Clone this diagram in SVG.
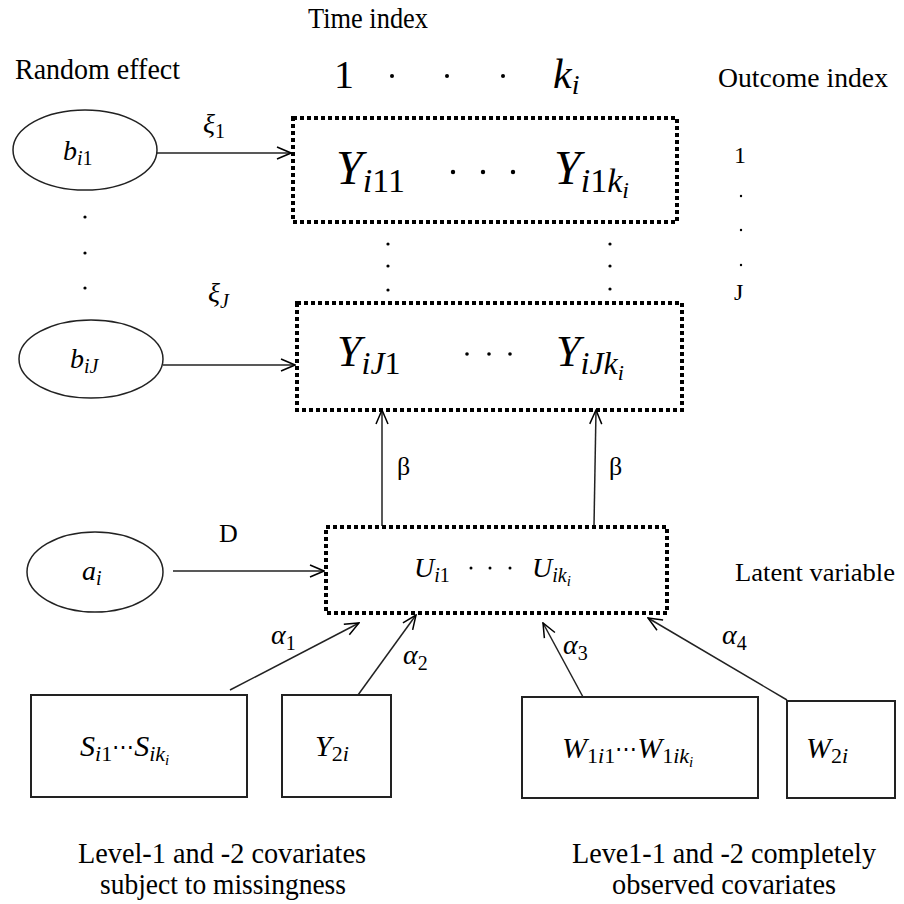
<svg xmlns="http://www.w3.org/2000/svg" width="904" height="904" viewBox="0 0 904 904">
<defs>
<marker id="arr" markerWidth="16" markerHeight="14" refX="15" refY="7" orient="auto" markerUnits="userSpaceOnUse">
<path d="M1,1 L15,7 L1,13" fill="none" stroke="#000" stroke-width="1.5"/>
</marker>
<style>
.lbl{fill:#000;font-family:"Liberation Serif","DejaVu Serif",serif;font-style:normal}
.m{font-style:italic;fill:#000;font-family:"Liberation Serif","DejaVu Serif",serif}
.dot{stroke:#000;stroke-width:4;stroke-dasharray:4 3;fill:none}
.box{stroke:#222;stroke-width:2;fill:#fff}
.ell{stroke:#222;stroke-width:1.5;fill:#fff}
.con{stroke:#222;stroke-width:1.5;fill:none;marker-end:url(#arr)}
</style>
</defs>
<rect width="904" height="904" fill="#fff"/>

<g id="headers">
<text class="lbl" x="368" y="28" font-size="29" text-anchor="middle" textLength="120" lengthAdjust="spacingAndGlyphs">Time index</text>
<text class="lbl" x="15" y="79" font-size="29" textLength="165" lengthAdjust="spacingAndGlyphs">Random effect</text>
<text class="lbl" x="718" y="87" font-size="27" textLength="170" lengthAdjust="spacingAndGlyphs">Outcome index</text>
<text class="lbl" x="334" y="88" font-size="40">1</text>
<circle cx="392" cy="76" r="2"/><circle cx="447" cy="76" r="2"/><circle cx="503" cy="76" r="2"/>
<text class="m" x="553" y="88" font-size="42">k<tspan font-size="28" dy="6">i</tspan></text>
<text class="lbl" x="734" y="163" font-size="24">1</text>
<circle cx="741" cy="196" r="1.2"/><circle cx="741" cy="230" r="1.2"/><circle cx="741" cy="265" r="1.2"/>
<text class="lbl" x="734" y="300" font-size="24">J</text>
<circle cx="85" cy="217" r="1.6"/><circle cx="85" cy="253" r="1.6"/><circle cx="85" cy="288" r="1.6"/>
<circle cx="388" cy="244" r="1.6"/><circle cx="388" cy="266" r="1.6"/><circle cx="388" cy="290" r="1.6"/>
<circle cx="610" cy="244" r="1.6"/><circle cx="610" cy="266" r="1.6"/><circle cx="610" cy="289" r="1.6"/>
</g>

<g id="connectors">
<line class="con" x1="157" y1="153" x2="291" y2="153"/>
<line class="con" x1="163" y1="365" x2="295" y2="365"/>
<line class="con" x1="382" y1="526" x2="382" y2="410"/>
<line class="con" x1="594" y1="526" x2="596" y2="410"/>
<line class="con" x1="173" y1="571" x2="324" y2="571"/>
<line class="con" x1="230" y1="690" x2="359" y2="623"/>
<line class="con" x1="358" y1="695" x2="416" y2="615"/>
<line class="con" x1="583" y1="697" x2="543" y2="623"/>
<line class="con" x1="787" y1="700" x2="648" y2="618"/>
</g>

<g id="labels">
<text class="m" x="203" y="133" font-size="28">ξ<tspan font-size="20" dy="5" font-style="normal">1</tspan></text>
<text class="m" x="208" y="302" font-size="28">ξ<tspan font-size="20" dy="6">J</tspan></text>
<text class="lbl" x="397" y="475" font-size="26">β</text>
<text class="lbl" x="609" y="475" font-size="26">β</text>
<text class="lbl" x="219" y="542" font-size="26">D</text>
<text class="m" x="271" y="644" font-size="28">α<tspan font-size="20" dy="6" font-style="normal">1</tspan></text>
<text class="m" x="403" y="664" font-size="28">α<tspan font-size="20" dy="6" font-style="normal">2</tspan></text>
<text class="m" x="563" y="654" font-size="28">α<tspan font-size="20" dy="6" font-style="normal">3</tspan></text>
<text class="m" x="722" y="644" font-size="28">α<tspan font-size="20" dy="6" font-style="normal">4</tspan></text>
<text class="lbl" x="735" y="581" font-size="25" textLength="160" lengthAdjust="spacingAndGlyphs">Latent variable</text>
</g>

<g id="b_i1">
<ellipse class="ell" cx="85" cy="150" rx="72" ry="40"/>
<text class="m" x="63" y="160" font-size="28">b<tspan font-size="20" dy="5">i</tspan><tspan font-size="20" font-style="normal">1</tspan></text>
</g>
<g id="b_iJ">
<ellipse class="ell" cx="91" cy="359" rx="72" ry="39"/>
<text class="m" x="70" y="368" font-size="28">b<tspan font-size="20" dy="5">iJ</tspan></text>
</g>
<g id="a_i">
<ellipse class="ell" cx="95" cy="572" rx="68" ry="40"/>
<text class="m" x="82" y="580" font-size="28">a<tspan font-size="20" dy="5">i</tspan></text>
</g>

<g id="Y1">
<rect class="dot" x="293" y="118" width="384" height="104"/>
<text class="m" x="336" y="184" font-size="48">Y<tspan font-size="34" dy="8">i</tspan><tspan font-size="34" font-style="normal">11</tspan></text>
<circle cx="453" cy="172" r="2.2"/><circle cx="483" cy="172" r="2.2"/><circle cx="513" cy="172" r="2.2"/>
<text class="m" x="554" y="184" font-size="48">Y<tspan font-size="34" dy="8">i</tspan><tspan font-size="34" font-style="normal">1</tspan><tspan font-size="34">k</tspan><tspan font-size="24" dy="6">i</tspan></text>
</g>

<g id="YJ">
<rect class="dot" x="297" y="303" width="385" height="107"/>
<text class="m" x="337" y="366" font-size="44">Y<tspan font-size="32" dy="8">iJ</tspan><tspan font-size="32" font-style="normal">1</tspan></text>
<circle cx="467" cy="354" r="1.8"/><circle cx="489" cy="354" r="1.8"/><circle cx="510" cy="354" r="1.8"/>
<text class="m" x="556" y="366" font-size="44">Y<tspan font-size="32" dy="8">iJk</tspan><tspan font-size="22" dy="6">i</tspan></text>
</g>

<g id="U">
<rect class="dot" x="326" y="527" width="341" height="86"/>
<text class="m" x="414" y="577" font-size="28">U<tspan font-size="20" dy="5">i</tspan><tspan font-size="20" font-style="normal">1</tspan></text>
<circle cx="471" cy="568" r="1.5"/><circle cx="490" cy="568" r="1.5"/><circle cx="510" cy="568" r="1.5"/>
<text class="m" x="532" y="577" font-size="28">U<tspan font-size="20" dy="5">ik</tspan><tspan font-size="15" dy="4">i</tspan></text>
</g>

<g id="S">
<rect class="box" x="31" y="695" width="216" height="102"/>
<text class="m" x="80" y="756" font-size="30">S<tspan font-size="22" dy="5">i</tspan><tspan font-size="22" font-style="normal">1</tspan><tspan font-size="22" dy="-7" font-style="normal">⋯</tspan><tspan font-size="30" dy="2">S</tspan><tspan font-size="22" dy="5">ik</tspan><tspan font-size="15" dy="4">i</tspan></text>
</g>
<g id="Y2">
<rect class="box" x="282" y="695" width="109" height="102"/>
<text class="m" x="315" y="756" font-size="30">Y<tspan font-size="22" dy="5" font-style="normal">2</tspan><tspan font-size="22">i</tspan></text>
</g>
<g id="W1">
<rect class="box" x="522" y="697" width="236" height="101"/>
<text class="m" x="562" y="758" font-size="30">W<tspan font-size="22" dy="5" font-style="normal">1</tspan><tspan font-size="22">i</tspan><tspan font-size="22" font-style="normal">1</tspan><tspan font-size="22" dy="-7" font-style="normal">⋯</tspan><tspan font-size="30" dy="2">W</tspan><tspan font-size="22" dy="5" font-style="normal">1</tspan><tspan font-size="22">ik</tspan><tspan font-size="15" dy="4">i</tspan></text>
</g>
<g id="W2">
<rect class="box" x="787" y="701" width="108" height="97"/>
<text class="m" x="806" y="758" font-size="30">W<tspan font-size="22" dy="5" font-style="normal">2</tspan><tspan font-size="22">i</tspan></text>
</g>

<g id="captions">
<text class="lbl" x="222" y="863" font-size="29" text-anchor="middle" textLength="288" lengthAdjust="spacingAndGlyphs">Level-1 and -2 covariates</text>
<text class="lbl" x="223" y="894" font-size="29" text-anchor="middle" textLength="246" lengthAdjust="spacingAndGlyphs">subject to missingness</text>
<text class="lbl" x="724" y="863" font-size="29" text-anchor="middle" textLength="304" lengthAdjust="spacingAndGlyphs">Leve1-1 and -2 completely</text>
<text class="lbl" x="724" y="894" font-size="29" text-anchor="middle" textLength="224" lengthAdjust="spacingAndGlyphs">observed covariates</text>
</g>
</svg>
